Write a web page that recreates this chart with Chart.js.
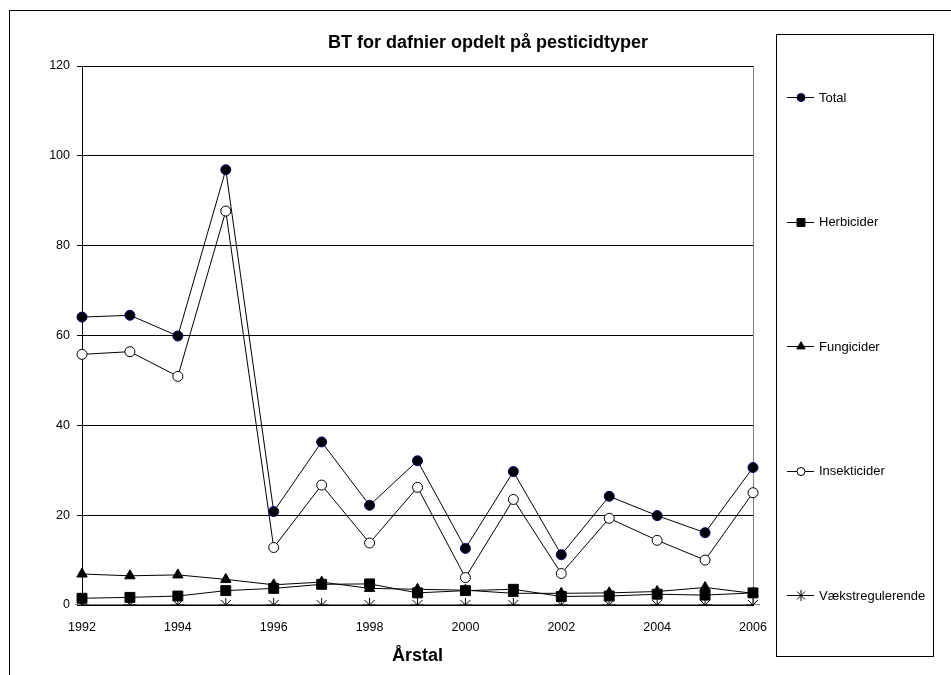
<!DOCTYPE html>
<html lang="da">
<head>
    <meta charset="UTF-8">
    <title>BT for dafnier opdelt på pesticidtyper</title>
    <script src="https://cdn.jsdelivr.net/npm/chart.js"></script>
    <style>
        html, body { margin: 0; padding: 0; background: #fff; }
        canvas { display: block; }
    </style>
</head>
<body>
    <canvas id="btChart" width="951" height="675"></canvas>

    <script>
        // Data
        const years = ['1992', '1993', '1994', '1995', '1996', '1997', '1998', '1999',
                       '2000', '2001', '2002', '2003', '2004', '2005', '2006'];
        const total = [64.1, 64.5, 59.9, 96.9, 20.8, 36.3, 22.2, 32.1, 12.6, 29.7, 11.2, 24.2, 19.9, 16.1, 30.6];
        const herbicider = [1.5, 1.7, 2.0, 3.2, 3.7, 4.6, 4.7, 2.7, 3.2, 3.5, 1.9, 2.0, 2.4, 2.2, 2.7];
        const fungicider = [6.9, 6.5, 6.7, 5.7, 4.5, 5.1, 3.7, 3.5, 3.3, 2.6, 2.6, 2.7, 3.0, 3.9, 2.6];
        const insekticider = [55.8, 56.4, 50.9, 87.7, 12.8, 26.7, 13.8, 26.2, 6.1, 23.5, 7.0, 19.3, 14.4, 10.0, 25.0];
        const vaekstregulerende = [0, 0, 0, 0, 0, 0, 0, 0, 0, 0, 0, 0, 0, 0, 0];
        const yTicks = [0, 20, 40, 60, 80, 100, 120];

        const FONT = 'Arial, "Liberation Sans", sans-serif';

        function series(label, data, style, radius, fill, border) {
            return {
                label: label,
                data: data,
                borderColor: '#000',
                borderWidth: 1,
                pointStyle: style,
                pointRadius: radius,
                pointHoverRadius: radius,
                pointBackgroundColor: fill,
                pointBorderColor: border,
                pointBorderWidth: 1,
                tension: 0,
                fill: false
            };
        }

        // frame, title, plot border and the boxed legend
        const decor = {
            id: 'decor',
            beforeDatasetsDraw(chart) {
                const ctx = chart.ctx, a = chart.chartArea;
                ctx.save();
                ctx.strokeStyle = '#808080';
                ctx.lineWidth = 1;
                const x = Math.round(a.right) + 0.5;
                ctx.beginPath();
                ctx.moveTo(x, a.top);
                ctx.lineTo(x, a.bottom);
                ctx.stroke();
                ctx.restore();
            },
            afterDraw(chart) {
                const ctx = chart.ctx;
                ctx.save();
                // outer chart border
                ctx.strokeStyle = '#000';
                ctx.lineWidth = 1;
                ctx.strokeRect(9.5, 10.5, 1000, 700);

                // title
                ctx.fillStyle = '#000';
                ctx.font = 'bold 18px ' + FONT;
                ctx.textAlign = 'center';
                ctx.textBaseline = 'middle';
                ctx.fillText('BT for dafnier opdelt på pesticidtyper', 488, 43);

                // legend box
                ctx.strokeRect(776.5, 34.5, 157, 622);
                ctx.font = '13px ' + FONT;
                ctx.textAlign = 'left';
                const dp = Chart.helpers && Chart.helpers.drawPoint;
                chart.data.datasets.forEach(function (ds, i) {
                    const y = 97 + i * 124.5;
                    ctx.strokeStyle = '#000';
                    ctx.lineWidth = 1;
                    ctx.beginPath();
                    ctx.moveTo(787, Math.round(y) + 0.5);
                    ctx.lineTo(814, Math.round(y) + 0.5);
                    ctx.stroke();
                    if (dp) {
                        ctx.fillStyle = ds.pointBackgroundColor;
                        ctx.strokeStyle = ds.pointBorderColor;
                        dp(ctx, {
                            pointStyle: ds.pointStyle,
                            radius: ds.pointRadius * 0.8,
                            rotation: 0,
                            borderWidth: 1
                        }, 801, Math.round(y) + 0.5);
                    }
                    ctx.fillStyle = '#000';
                    ctx.fillText(ds.label, 819, y + 1);
                });
                ctx.restore();
            }
        };

        const ctx = document.getElementById('btChart').getContext('2d');
        const btChart = new Chart(ctx, {
            type: 'line',
            data: {
                labels: years,
                datasets: [
                    series('Total', total, 'circle', 5, '#000', '#000080'),
                    series('Herbicider', herbicider, 'rect', 7, '#000', '#000'),
                    series('Fungicider', fungicider, 'triangle', 6, '#000', '#000'),
                    series('Insekticider', insekticider, 'circle', 5, '#fff', '#000'),
                    series('Vækstregulerende', vaekstregulerende, 'star', 7, '#000', '#000')
                ]
            },
            options: {
                responsive: false,
                animation: false,
                layout: { padding: { left: 0, right: 198, top: 66, bottom: 0 } },
                plugins: {
                    legend: { display: false },
                    title: { display: false },
                    tooltip: { enabled: false }
                },
                scales: {
                    x: {
                        type: 'category',
                        offset: false,
                        grid: { display: false },
                        border: { display: true, color: '#000', width: 1 },
                        ticks: {
                            autoSkip: false,
                            maxRotation: 0,
                            padding: 7,
                            color: '#000',
                            font: { family: FONT, size: 12.5 },
                            callback: function (v, i) { return i % 2 === 0 ? years[i] : ''; }
                        },
                        title: {
                            display: true,
                            text: 'Årstal',
                            color: '#000',
                            font: { family: FONT, size: 18, weight: 'bold' },
                            padding: { top: 0, bottom: 8 }
                        },
                        afterFit: function (scale) { scale.height = 70; }
                    },
                    y: {
                        min: 0,
                        max: 120,
                        afterBuildTicks: function (scale) {
                            scale.ticks = yTicks.map(function (v) { return { value: v }; });
                        },
                        grid: { color: '#000', lineWidth: 1, tickLength: 5 },
                        border: { display: true, color: '#000', width: 1 },
                        ticks: {
                            padding: 7,
                            color: '#000',
                            font: { family: FONT, size: 12.5 }
                        },
                        afterFit: function (scale) { scale.width = 82; }
                    }
                }
            },
            plugins: [decor]
        });
    </script>
</body>
</html>
